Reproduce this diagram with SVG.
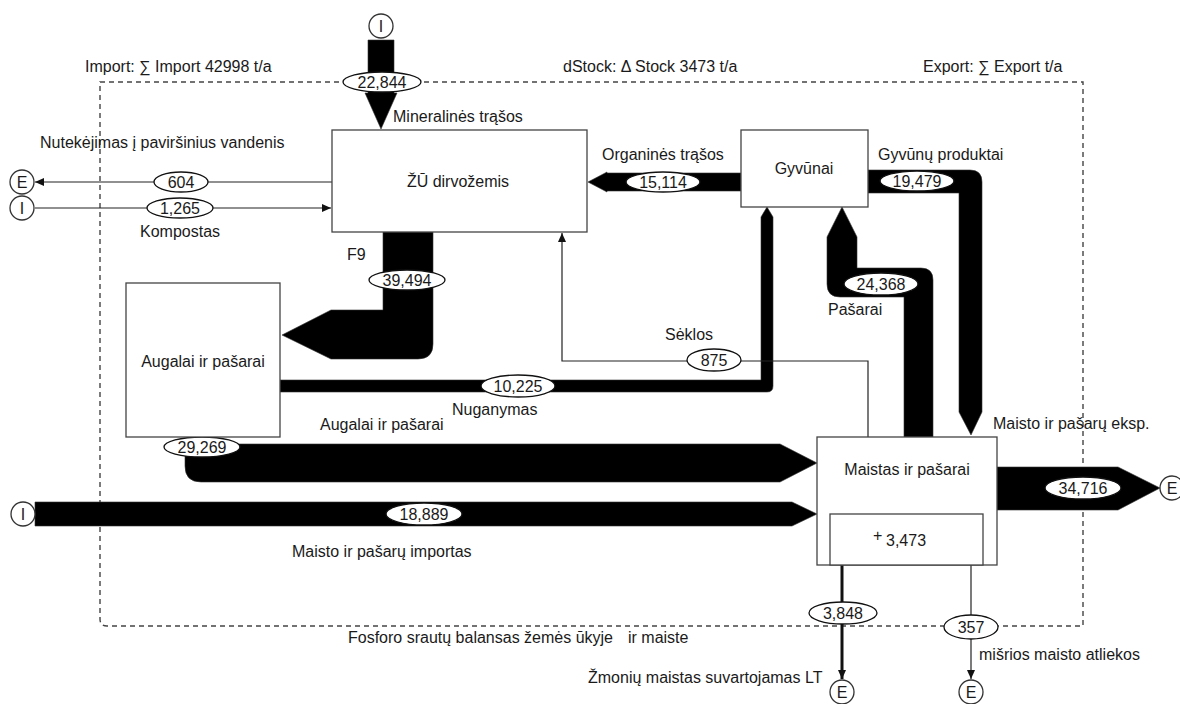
<svg xmlns="http://www.w3.org/2000/svg" width="1180" height="704" viewBox="0 0 1180 704">
<style>
text{font-family:"Liberation Sans",Arial,sans-serif;font-size:16px;fill:#1a1a1a}
.c{text-anchor:middle}
.box{fill:#fff;stroke:#444;stroke-width:1.3}
.flow{fill:#000;stroke:#333;stroke-width:0.6}
.ell{fill:#fff;stroke:#111;stroke-width:1.3}
.thin{fill:none;stroke:#222;stroke-width:1.2}
.thick{fill:none;stroke:#111;stroke-width:3}
.term{fill:#fff;stroke:#333;stroke-width:1.3}
.dash{fill:none;stroke:#444;stroke-width:1.4;stroke-dasharray:5 4}
</style>
<defs>
<marker id="ah" markerUnits="userSpaceOnUse" markerWidth="10" markerHeight="10" refX="9" refY="4" orient="auto">
<path d="M0,0 L9,4 L0,8 Z" fill="#111"/>
</marker>
</defs>
<rect width="1180" height="704" fill="#fff"/>

<g id="boundary">
<path class="dash" d="M100,82 H1083 V626 H107 Q100,626 100,619 Z"/>
<text x="85" y="72">Import: ∑ Import 42998 t/a</text>
<text x="563" y="72">dStock: Δ Stock 3473 t/a</text>
<text x="923" y="72">Export: ∑ Export t/a</text>
<text x="348" y="643">Fosforo srautų balansas žemės ūkyje</text>
<text x="628" y="643">ir maiste</text>
</g>

<g id="connectors">
<path class="flow" d="M368,40 H394 V93 H397 L381,129 L365,93 H368 Z"/>
<path class="flow" d="M741,173 H607 V172 L588,182 L607,192 V191 H741 Z"/>
<path class="flow" d="M868,170 H970 Q982,170 982,182 V412 L971,435 L959,412 V193 H868 Z"/>
<path class="flow" d="M383,232 H433 V344 Q433,359 418,359 H331 L282,335 L331,310 H383 Z"/>
<path class="flow" d="M280,380 H761 V217 L767,207 L773,217 V386 Q773,392 767,392 H280 Z"/>
<path class="flow" d="M904,437 V297 H840 Q827,297 827,284 V237 L842,207 L857,237 V268 H921 Q933,268 933,280 V437 Z"/>
<path class="flow" d="M185,444 H780 L817,463 L780,482 H201 Q185,482 185,466 Z"/>
<path class="flow" d="M35,502 H792 L817,514 L792,526 H35 Z"/>
<path class="flow" d="M997,467 H1118 L1160,488 L1118,510 H997 Z"/>
<path class="thin" d="M868,437 V361 H562 V233" marker-end="url(#ah)"/>
<path class="thin" d="M332,182 H35" marker-end="url(#ah)"/>
<path class="thin" d="M35,208 H331" marker-end="url(#ah)"/>
<path class="thick" d="M842,565 V679" marker-end="url(#ah)"/>
<path class="thin" d="M971,565 V679" marker-end="url(#ah)"/>

<ellipse class="ell" cx="382" cy="82" rx="39" ry="10"/>
<text class="c" x="382" y="88">22,844</text>
<ellipse class="ell" cx="663" cy="182" rx="37" ry="10"/>
<text class="c" x="663" y="188">15,114</text>
<ellipse class="ell" cx="917" cy="181" rx="37" ry="10"/>
<text class="c" x="917" y="187">19,479</text>
<ellipse class="ell" cx="181" cy="182" rx="27" ry="10"/>
<text class="c" x="181" y="188">604</text>
<ellipse class="ell" cx="180" cy="208" rx="33" ry="10"/>
<text class="c" x="180" y="214">1,265</text>
<ellipse class="ell" cx="407" cy="280" rx="38" ry="10"/>
<text class="c" x="407" y="286">39,494</text>
<ellipse class="ell" cx="881" cy="284" rx="37" ry="11"/>
<text class="c" x="881" y="290">24,368</text>
<ellipse class="ell" cx="714" cy="360" rx="27" ry="11"/>
<text class="c" x="714" y="366">875</text>
<ellipse class="ell" cx="518" cy="386" rx="37" ry="11"/>
<text class="c" x="518" y="392">10,225</text>
<ellipse class="ell" cx="202" cy="447" rx="38" ry="10"/>
<text class="c" x="202" y="453">29,269</text>
<ellipse class="ell" cx="424" cy="514" rx="38" ry="11"/>
<text class="c" x="424" y="520">18,889</text>
<ellipse class="ell" cx="1083" cy="488" rx="38" ry="11"/>
<text class="c" x="1083" y="494">34,716</text>
<ellipse class="ell" cx="843" cy="613" rx="34" ry="11"/>
<text class="c" x="843" y="619">3,848</text>
<ellipse class="ell" cx="971" cy="627" rx="27" ry="12"/>
<text class="c" x="971" y="633">357</text>

<text x="393" y="122">Mineralinės trąšos</text>
<text x="40" y="148">Nutekėjimas į paviršinius vandenis</text>
<text x="602" y="160">Organinės trąšos</text>
<text x="878" y="160">Gyvūnų produktai</text>
<text x="140" y="237">Kompostas</text>
<text x="347" y="260">F9</text>
<text x="665" y="340">Sėklos</text>
<text x="828" y="315">Pašarai</text>
<text x="452" y="415">Nuganymas</text>
<text x="320" y="430">Augalai ir pašarai</text>
<text x="993" y="429">Maisto ir pašarų eksp.</text>
<text x="292" y="557">Maisto ir pašarų importas</text>
<text x="588" y="683">Žmonių maistas suvartojamas LT</text>
<text x="979" y="660">mišrios maisto atliekos</text>
</g>

<g id="node-zu">
<rect class="box" x="332" y="130" width="255" height="102"/>
<text class="c" x="458" y="187">ŽŪ dirvožemis</text>
</g>
<g id="node-gyvunai">
<rect class="box" x="741" y="130" width="127" height="77"/>
<text class="c" x="804" y="174">Gyvūnai</text>
</g>
<g id="node-augalai">
<rect class="box" x="126" y="283" width="154" height="154"/>
<text class="c" x="203" y="367">Augalai ir pašarai</text>
</g>
<g id="node-maistas">
<rect class="box" x="817" y="437" width="180" height="128"/>
<text class="c" x="907" y="475">Maistas ir pašarai</text>
<rect class="box" x="830" y="514" width="153" height="51"/>
<text x="873" y="541">+</text>
<text x="886" y="546">3,473</text>
</g>
<g id="term-i-top"><circle class="term" cx="381" cy="26" r="12"/><text class="c" x="381" y="32">I</text></g>
<g id="term-e-left"><circle class="term" cx="22" cy="182" r="12"/><text class="c" x="22" y="188">E</text></g>
<g id="term-i-left"><circle class="term" cx="22" cy="208" r="12"/><text class="c" x="22" y="214">I</text></g>
<g id="term-i-import"><circle class="term" cx="23" cy="514" r="12"/><text class="c" x="23" y="520">I</text></g>
<g id="term-e-export"><circle class="term" cx="1172" cy="488" r="12"/><text class="c" x="1172" y="494">E</text></g>
<g id="term-e-food"><circle class="term" cx="842" cy="692" r="12"/><text class="c" x="842" y="698">E</text></g>
<g id="term-e-waste"><circle class="term" cx="971" cy="692" r="12"/><text class="c" x="971" y="698">E</text></g>
</svg>
